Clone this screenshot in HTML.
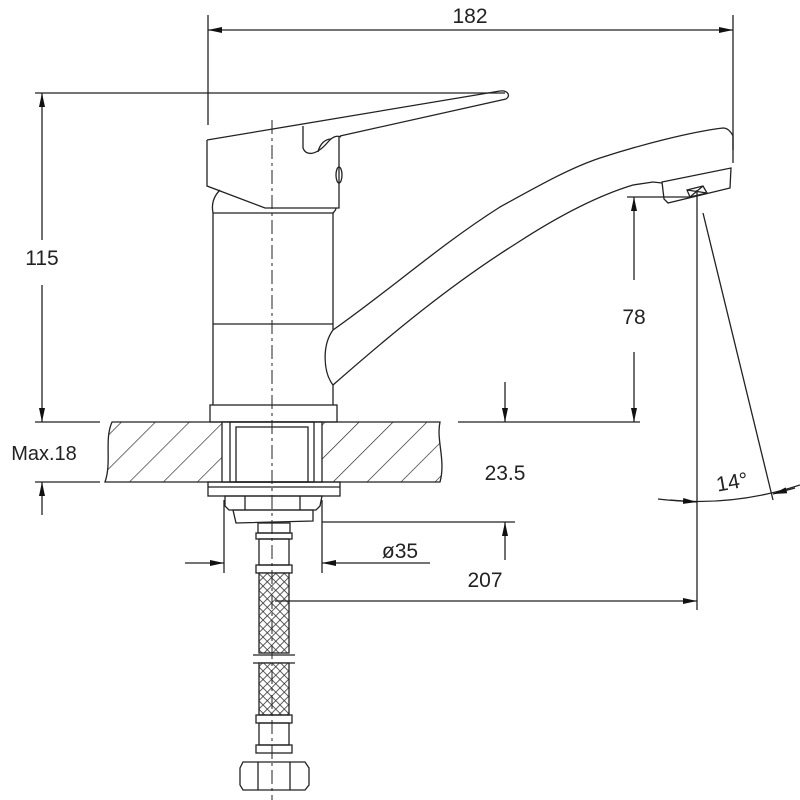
<!DOCTYPE html>
<html><head><style>body{margin:0;background:#fff}svg{display:block}text{font-family:"Liberation Sans",sans-serif;font-size:21px;fill:#222}</style></head>
<body>
<svg width="800" height="800" viewBox="0 0 800 800" xmlns="http://www.w3.org/2000/svg">
<defs>
<marker id="a" markerWidth="14" markerHeight="8" refX="14" refY="4" orient="auto" markerUnits="userSpaceOnUse"><path d="M0,1 L14,4 L0,7 Z" fill="#111"/></marker>
<pattern id="h" width="24" height="24" patternUnits="userSpaceOnUse" patternTransform="rotate(45)"><line x1="0" y1="0" x2="0" y2="24" stroke="#222" stroke-width="1.3"/></pattern>
<pattern id="m" width="6" height="6" patternUnits="userSpaceOnUse" patternTransform="rotate(45)"><rect width="6" height="6" fill="#fff"/><line x1="0" y1="0" x2="6" y2="0" stroke="#333" stroke-width="1.6"/><line x1="0" y1="0" x2="0" y2="6" stroke="#333" stroke-width="1.6"/></pattern>
</defs>
<g fill="none" stroke="#222" stroke-width="1.3">
<line x1="208" y1="15" x2="208" y2="125"/><line x1="733" y1="15" x2="733" y2="150"/>
<line x1="240" y1="30" x2="208" y2="30" marker-end="url(#a)"/>
<line x1="700" y1="30" x2="733" y2="30" marker-end="url(#a)"/>
<line x1="240" y1="30" x2="700" y2="30"/>
<line x1="35" y1="93" x2="505" y2="93"/>
<line x1="42" y1="240" x2="42" y2="93" marker-end="url(#a)"/>
<line x1="42" y1="285" x2="42" y2="422" marker-end="url(#a)"/>
<line x1="35" y1="422" x2="100" y2="422"/>
<line x1="35" y1="482" x2="100" y2="482"/>
<line x1="42" y1="515" x2="42" y2="482" marker-end="url(#a)"/>
<path d="M112,422 L440,422 C436,440 446,460 440,482 L105,482 C112,462 104,440 112,422 Z" fill="url(#h)"/>
<rect x="222" y="422" width="100" height="60" fill="#fff"/>
<rect x="230" y="422" width="84" height="60"/>
<rect x="236" y="427" width="72" height="55"/>
<line x1="458" y1="422" x2="640" y2="422"/>
<rect x="208" y="482" width="132" height="14"/>
<line x1="208" y1="487" x2="340" y2="487"/>
<path d="M225,496 L322,496 L320,506 L316,510 L229,510 L225,506 Z"/>
<line x1="245" y1="496" x2="245" y2="510"/><line x1="300" y1="496" x2="300" y2="510"/>
<path d="M233,510 L313,510 L313,521 L236,523 Z"/>
<rect x="258" y="523" width="32" height="10"/>
<rect x="256" y="533" width="36" height="6"/>
<rect x="259" y="539" width="30" height="26"/>
<rect x="256" y="565" width="36" height="8"/>
<rect x="259" y="573" width="30" height="80" fill="url(#m)"/>
<line x1="253" y1="655" x2="295" y2="655"/><line x1="253" y1="663" x2="295" y2="663"/>
<rect x="259" y="663" width="30" height="52" fill="url(#m)"/>
<rect x="256" y="715" width="36" height="8"/>
<rect x="259" y="723" width="30" height="22"/>
<rect x="256" y="745" width="36" height="8"/>
<path d="M243,762 L305,762 L309,768 L309,785 L305,790 L243,790 L240,785 L240,768 Z"/>
<line x1="258" y1="762" x2="258" y2="790"/><line x1="290" y1="762" x2="290" y2="790"/>
<!-- body -->
<rect x="210" y="405" width="127" height="17"/>
<line x1="213" y1="213" x2="213" y2="405"/><line x1="333" y1="213" x2="333" y2="330"/><line x1="333" y1="385" x2="333" y2="405"/>
<line x1="213" y1="213" x2="333" y2="213"/><line x1="213" y1="324" x2="333" y2="324"/>
<path d="M213,213 C211,203 214,196 220,190"/>
<path d="M333,213 C335,211 336,209 336,208"/>
<!-- handle -->
<path d="M207,140 L207,186 L265,208 L339,208 L339,136"/>
<path d="M207,140 L500,91 C508,90 511,96 506,99 L340,136"/>
<path d="M303,126 L303,148 C306,156 316,156 328,142 C332,137 337,135 341,137"/>
<path d="M318,152 C320,143 326,139 331,139"/>
<ellipse cx="339" cy="175" rx="3" ry="8"/>
<!-- spout -->
<path d="M333,330 C390,290 440,245 500,207 C540,185 570,168 600,158 C640,145 690,132 723,128 C728,128 731,132 733,136 L733,163"/>
<path d="M333,385 C390,335 450,285 517,243 C560,215 600,195 633,185 L653,182 L662,183"/>
<path d="M333,330 C322,345 323,372 333,385"/>
<path d="M662,182 L731,168 L730,188 L668,203 L664,199 Z"/>
<path d="M687,190 L703,186 L707,193 L690,197 Z"/><line x1="687" y1="190" x2="707" y2="193"/><line x1="703" y1="186" x2="690" y2="197"/>
<line x1="272" y1="120" x2="272" y2="800" stroke-dasharray="14,4,3,4" stroke-width="1"/>
<line x1="627" y1="197" x2="690" y2="197"/>
<line x1="634" y1="280" x2="634" y2="197" marker-end="url(#a)"/>
<line x1="634" y1="352" x2="634" y2="422" marker-end="url(#a)"/>
<line x1="505" y1="382" x2="505" y2="422" marker-end="url(#a)"/>
<line x1="322" y1="522" x2="515" y2="522"/>
<line x1="505" y1="560" x2="505" y2="522" marker-end="url(#a)"/>
<line x1="224" y1="500" x2="224" y2="573"/><line x1="322" y1="500" x2="322" y2="573"/>
<line x1="185" y1="563" x2="224" y2="563" marker-end="url(#a)"/>
<line x1="430" y1="563" x2="322" y2="563" marker-end="url(#a)"/>
<line x1="697" y1="190" x2="697" y2="610"/>
<line x1="290" y1="601" x2="697" y2="601" marker-end="url(#a)"/>
<line x1="275" y1="601" x2="290" y2="601"/>
<line x1="703" y1="213" x2="773" y2="500"/>
<path d="M658,499 Q730,508 800,485"/>
<line x1="670" y1="500" x2="697" y2="502" marker-end="url(#a)"/>
<line x1="795" y1="488" x2="773" y2="494" marker-end="url(#a)"/>
</g>
<text x="470" y="23" text-anchor="middle">182</text>
<text x="42" y="265" text-anchor="middle">115</text>
<text x="634" y="324" text-anchor="middle">78</text>
<text x="44" y="460" text-anchor="middle" style="font-size:20px">Max.18</text>
<text x="505" y="480" text-anchor="middle">23.5</text>
<text x="400" y="558" text-anchor="middle">ø35</text>
<text x="485" y="587" text-anchor="middle">207</text>
<text x="732" y="489" text-anchor="middle" transform="rotate(-10 732 482)">14°</text>
</svg>
</body></html>
